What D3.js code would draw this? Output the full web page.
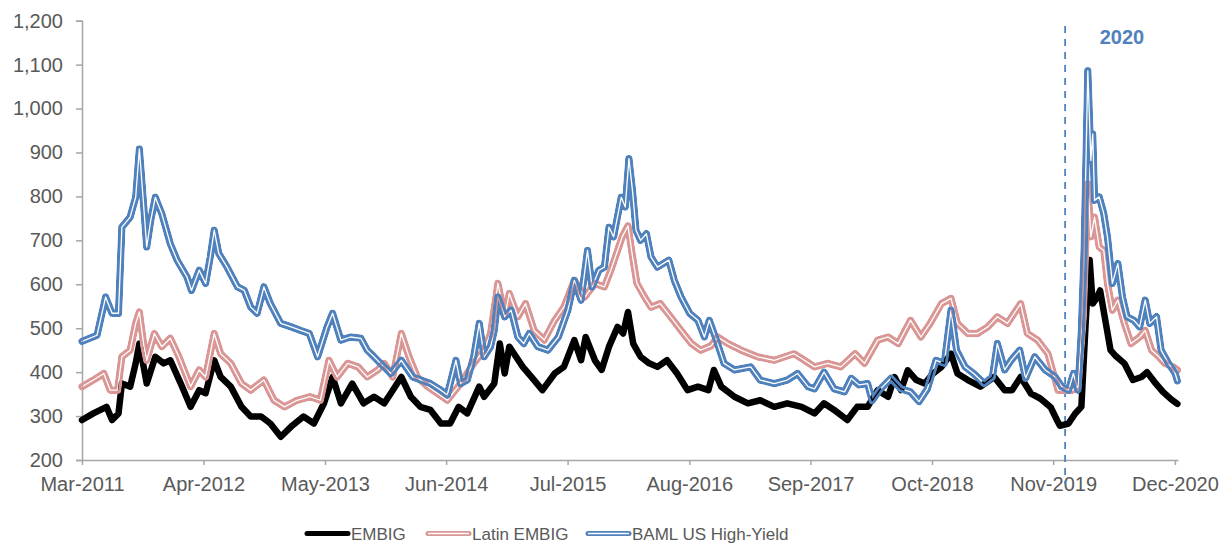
<!DOCTYPE html>
<html>
<head>
<meta charset="utf-8">
<script src="https://cdn.jsdelivr.net/npm/d3@7"></script>
<style>
  body { margin: 0; background: #fff; }
  svg { display: block; font-family: "Liberation Sans", Arial, sans-serif; }
  .axis path, .axis line { stroke: #a6a6a6; stroke-width: 1.5; }
  .axis text { fill: #595959; font-size: 20px; font-family: "Liberation Sans", Arial, sans-serif; }
  .legend text { fill: #595959; font-size: 17px; }
</style>
</head>
<body>
<svg id="chart" width="1228" height="546"></svg>
<script>
// spreads, basis points
var embig = [
  ["2011-03-31",291],["2011-05-07",306],["2011-06-19",321],["2011-07-07",291],["2011-07-28",306],
  ["2011-08-08",374],["2011-09-04",367],["2011-09-22",420],["2011-10-04",465],["2011-10-28",374],
  ["2011-11-25",435],["2011-12-22",420],["2012-01-13",427],["2012-02-16",374],["2012-03-19",321],
  ["2012-04-16",359],["2012-05-07",352],["2012-06-04",427],["2012-06-25",389],["2012-07-28",367],
  ["2012-09-01",321],["2012-10-01",299],["2012-11-04",299],["2012-12-04",283],["2013-01-07",253],
  ["2013-02-10",276],["2013-03-22",299],["2013-04-25",283],["2013-05-28",329],["2013-06-25",389],
  ["2013-07-22",329],["2013-08-28",374],["2013-10-04",329],["2013-11-07",344],["2013-12-10",329],
  ["2014-01-01",352],["2014-02-04",389],["2014-03-07",344],["2014-04-07",321],["2014-05-10",314],
  ["2014-06-13",283],["2014-07-13",283],["2014-08-10",321],["2014-09-07",306],["2014-10-16",367],
  ["2014-11-01",344],["2014-12-04",374],["2014-12-22",465],["2015-01-07",397],["2015-01-22",458],
  ["2015-02-13",435],["2015-03-07",412],["2015-04-04",389],["2015-05-10",359],["2015-06-19",397],
  ["2015-07-19",412],["2015-08-22",473],["2015-09-13",427],["2015-09-28",480],["2015-10-28",427],
  ["2015-11-19",405],["2015-12-13",458],["2016-01-10",503],["2016-01-28",488],["2016-02-13",537],
  ["2016-03-01",465],["2016-03-25",435],["2016-04-22",420],["2016-05-19",412],["2016-06-19",427],
  ["2016-07-22",397],["2016-08-25",359],["2016-09-28",367],["2016-11-01",359],["2016-11-19",405],
  ["2016-12-13",367],["2017-01-25",344],["2017-03-10",329],["2017-04-19",336],["2017-06-04",321],
  ["2017-07-16",329],["2017-09-01",321],["2017-10-13",306],["2017-11-13",329],["2017-12-16",314],
  ["2018-01-28",291],["2018-03-01",321],["2018-04-04",321],["2018-05-07",359],["2018-06-10",344],
  ["2018-07-01",389],["2018-07-22",359],["2018-08-13",404],["2018-09-10",382],["2018-10-07",374],
  ["2018-11-04",397],["2018-12-01",412],["2019-01-01",442],["2019-01-22",397],["2019-02-25",382],
  ["2019-04-07",367],["2019-05-22",389],["2019-06-25",359],["2019-07-19",359],["2019-08-16",389],
  ["2019-09-19",351],["2019-10-19",340],["2019-11-22",320],["2019-12-13",290],["2019-12-22",278],
  ["2020-01-19",283],["2020-02-10",306],["2020-03-01",321],["2020-03-16",526],["2020-03-28",655],
  ["2020-04-07",556],["2020-04-22",571],["2020-05-01",586],["2020-05-16",526],["2020-06-04",450],
  ["2020-06-22",436],["2020-07-19",420],["2020-08-16",382],["2020-09-13",389],["2020-10-01",400],
  ["2020-10-25",378],["2020-11-22",355],["2020-12-19",338],["2021-01-08",328]
];

var latinEmbig = [
  ["2011-03-31",367],["2011-05-07",382],["2011-06-10",397],["2011-07-01",359],["2011-07-25",359],
  ["2011-08-08",435],["2011-09-04",450],["2011-09-22",511],["2011-10-04",537],["2011-10-19",458],
  ["2011-10-28",427],["2011-11-22",488],["2011-12-16",458],["2012-01-13",477],["2012-02-10",435],
  ["2012-03-19",367],["2012-04-16",405],["2012-05-07",389],["2012-06-04",488],["2012-06-25",442],
  ["2012-07-28",420],["2012-09-01",374],["2012-10-01",359],["2012-11-13",382],["2012-12-16",336],
  ["2013-01-19",321],["2013-03-01",336],["2013-04-13",344],["2013-05-16",336],["2013-06-13",427],
  ["2013-07-10",389],["2013-08-13",420],["2013-09-16",412],["2013-10-16",389],["2013-11-19",405],
  ["2013-12-10",420],["2014-01-07",389],["2014-02-04",488],["2014-03-01",435],["2014-03-28",389],
  ["2014-05-01",367],["2014-06-01",352],["2014-07-04",336],["2014-07-13",344],["2014-08-16",374],
  ["2014-09-28",420],["2014-11-01",450],["2014-11-22",488],["2014-12-16",602],["2015-01-07",526],
  ["2015-01-22",579],["2015-02-19",526],["2015-03-16",556],["2015-04-13",495],["2015-05-16",473],
  ["2015-06-19",518],["2015-07-19",548],["2015-08-22",609],["2015-09-25",571],["2015-10-28",602],
  ["2015-11-28",594],["2015-12-19",632],["2016-01-10",677],["2016-01-25",708],["2016-02-13",733],
  ["2016-02-28",662],["2016-03-13",602],["2016-04-07",571],["2016-04-28",548],["2016-05-28",556],
  ["2016-07-01",526],["2016-08-04",495],["2016-09-07",465],["2016-10-07",450],["2016-11-10",460],
  ["2016-12-01",480],["2017-01-04",465],["2017-02-16",450],["2017-04-10",435],["2017-06-04",427],
  ["2017-08-07",442],["2017-09-10",427],["2017-10-13",412],["2017-11-25",420],["2018-01-07",412],
  ["2018-02-22",442],["2018-03-25",420],["2018-05-07",473],["2018-06-10",480],["2018-07-13",465],
  ["2018-08-22",518],["2018-09-25",480],["2018-10-25",511],["2018-12-01",556],["2019-01-01",568],
  ["2019-01-22",511],["2019-02-25",488],["2019-03-28",488],["2019-05-01",503],["2019-06-01",526],
  ["2019-07-04",511],["2019-08-16",556],["2019-09-07",488],["2019-10-10",473],["2019-11-13",442],
  ["2019-12-16",359],["2020-02-01",359],["2020-02-19",367],["2020-03-07",526],["2020-03-22",829],
  ["2020-04-01",708],["2020-04-13",753],["2020-04-28",685],["2020-05-13",677],["2020-05-25",602],
  ["2020-06-10",541],["2020-06-28",564],["2020-07-19",511],["2020-08-10",465],["2020-09-07",480],
  ["2020-09-25",495],["2020-10-16",450],["2020-11-07",436],["2020-11-28",420],["2020-12-25",412],
  ["2021-01-08",405]
];

var bamlHY = [
  ["2011-03-31",470],["2011-05-19",484],["2011-06-16",571],["2011-07-07",534],["2011-07-28",534],
  ["2011-08-08",730],["2011-09-04",753],["2011-09-22",798],["2011-10-04",908],["2011-10-16",798],
  ["2011-10-28",685],["2011-11-10",745],["2011-11-25",798],["2011-12-16",761],["2012-01-13",692],
  ["2012-02-04",655],["2012-03-07",617],["2012-03-22",586],["2012-04-16",632],["2012-05-07",602],
  ["2012-05-22",662],["2012-06-04",723],["2012-06-19",670],["2012-07-16",639],["2012-08-19",594],
  ["2012-09-10",586],["2012-10-01",548],["2012-10-22",534],["2012-11-13",594],["2012-12-04",556],
  ["2013-01-07",511],["2013-02-10",503],["2013-03-13",495],["2013-04-10",488],["2013-05-07",435],
  ["2013-06-07",503],["2013-06-25",534],["2013-07-22",473],["2013-08-22",480],["2013-09-25",477],
  ["2013-10-16",450],["2013-11-07",435],["2013-11-28",420],["2014-01-01",397],["2014-02-04",427],
  ["2014-03-13",389],["2014-05-10",374],["2014-06-13",359],["2014-07-04",348],["2014-08-01",427],
  ["2014-08-16",374],["2014-09-07",382],["2014-09-28",435],["2014-10-16",511],["2014-11-01",435],
  ["2014-11-22",458],["2014-12-04",495],["2014-12-16",571],["2015-01-07",526],["2015-01-28",541],
  ["2015-02-19",480],["2015-03-10",465],["2015-03-28",488],["2015-04-25",458],["2015-05-28",450],
  ["2015-07-01",480],["2015-08-01",541],["2015-08-22",609],["2015-09-13",564],["2015-10-04",677],
  ["2015-10-19",594],["2015-11-10",632],["2015-11-28",639],["2015-12-13",730],["2015-12-28",708],
  ["2016-01-22",798],["2016-02-04",776],["2016-02-16",886],["2016-02-28",811],["2016-03-10",723],
  ["2016-03-25",700],["2016-04-13",715],["2016-04-28",662],["2016-05-19",639],["2016-06-25",655],
  ["2016-07-13",609],["2016-08-04",571],["2016-09-01",534],["2016-09-28",518],["2016-10-19",480],
  ["2016-11-04",518],["2016-12-01",465],["2016-12-22",420],["2017-01-25",405],["2017-03-19",412],
  ["2017-04-19",382],["2017-06-04",374],["2017-07-16",382],["2017-08-19",397],["2017-09-22",367],
  ["2017-10-13",362],["2017-11-13",400],["2017-12-16",362],["2018-01-19",355],["2018-02-10",386],
  ["2018-03-07",371],["2018-04-04",374],["2018-04-19",335],["2018-05-16",362],["2018-06-19",386],
  ["2018-07-22",362],["2018-08-22",355],["2018-09-19",333],["2018-10-16",362],["2018-11-13",427],
  ["2018-12-10",420],["2019-01-01",541],["2019-01-19",450],["2019-02-16",412],["2019-03-16",397],
  ["2019-04-19",374],["2019-05-16",389],["2019-06-01",465],["2019-06-25",405],["2019-07-16",427],
  ["2019-08-13",450],["2019-09-01",386],["2019-10-01",435],["2019-11-04",405],["2019-12-07",389],
  ["2019-12-28",367],["2020-01-19",359],["2020-02-04",397],["2020-02-19",359],["2020-03-01",495],
  ["2020-03-10",677],["2020-03-22",1086],["2020-04-01",882],["2020-04-07",942],["2020-04-13",791],
  ["2020-04-28",799],["2020-05-13",761],["2020-05-25",708],["2020-06-10",602],["2020-06-28",647],
  ["2020-07-13",571],["2020-07-28",526],["2020-08-19",518],["2020-09-07",503],["2020-09-25",564],
  ["2020-10-10",511],["2020-11-01",526],["2020-11-16",450],["2020-12-10",420],["2021-01-01",397],
  ["2021-01-08",380]
];

var seriesNames = ["EMBIG", "Latin EMBIG", "BAML US High-Yield"];
var seriesColors = ["#000000", "#d99694", "#4f81bd"];

var tickDates = ["2011-03-31","2012-04-30","2013-05-31","2014-06-30","2015-07-31",
                 "2016-08-31","2017-09-30","2018-10-31","2019-11-30","2020-12-31"];
var tickLabels = ["Mar-2011","Apr-2012","May-2013","Jun-2014","Jul-2015",
                  "Aug-2016","Sep-2017","Oct-2018","Nov-2019","Dec-2020"];
var yTicks = [200, 300, 400, 500, 600, 700, 800, 900, 1000, 1100, 1200];

var markerDate = "2020-01-08";
var markerLabel = "2020";

var W = 1228, H = 546;
var parse = d3.timeParse("%Y-%m-%d");

var svg = d3.select('#chart');
var defs = svg.append('defs');

var x = d3.scaleTime()
    .domain([parse("2011-03-31"), parse("2021-01-10")])
    .range([82, 1178]);
var y = d3.scaleLinear()
    .domain([200, 1200])
    .range([460, 20.7]);

var line = d3.line()
    .x((d) => x(parse(d[0])))
    .y((d) => y(d[1]));

// y axis
svg.append('g')
    .attr('class', 'axis')
    .attr('transform', 'translate(82,0)')
    .call(d3.axisLeft(y).tickValues(yTicks).tickSize(6).tickPadding(13)
        .tickFormat(d3.format(',')));

// x axis
var tickMap = {};
tickDates.forEach((d, i) => tickMap[+parse(d)] = tickLabels[i]);
svg.append('g')
    .attr('class', 'axis')
    .attr('transform', 'translate(0,460)')
    .call(d3.axisBottom(x).tickValues(tickDates.map(parse)).tickSize(5).tickPadding(12)
        .tickSizeOuter(0)
        .tickFormat((d) => tickMap[+d]));

// 2020 marker
svg.append('line')
    .attr('x1', x(parse(markerDate))).attr('x2', x(parse(markerDate)))
    .attr('y1', 26).attr('y2', 484)
    .attr('stroke', '#4f81bd')
    .attr('stroke-width', 1.8)
    .attr('stroke-dasharray', '7,6');
svg.append('text')
    .attr('x', 1122).attr('y', 44)
    .attr('text-anchor', 'middle')
    .attr('fill', '#4f81bd')
    .style('font-size', '20px')
    .style('font-weight', 'bold')
    .text(markerLabel);

// double line with transparent centre (compound line)
function drawDouble(data, color, id, outer, inner) {
    var mask = defs.append('mask').attr('id', id)
        .attr('maskUnits', 'userSpaceOnUse')
        .attr('x', 0).attr('y', 0).attr('width', W).attr('height', H);
    mask.append('path').datum(data).attr('d', line)
        .attr('fill', 'none').attr('stroke', '#fff')
        .attr('stroke-width', outer).attr('stroke-linejoin', 'round').attr('stroke-linecap', 'round');
    mask.append('path').datum(data).attr('d', line)
        .attr('fill', 'none').attr('stroke', '#000')
        .attr('stroke-width', inner).attr('stroke-linejoin', 'round').attr('stroke-linecap', 'round');
    svg.append('path').datum(data).attr('d', line)
        .attr('fill', 'none').attr('stroke', color)
        .attr('stroke-width', outer).attr('stroke-linejoin', 'round').attr('stroke-linecap', 'round')
        .attr('mask', `url(#${id})`);
}

svg.append('path').datum(embig).attr('d', line)
    .attr('fill', 'none').attr('stroke', seriesColors[0])
    .attr('stroke-width', 6.5).attr('stroke-linejoin', 'round').attr('stroke-linecap', 'round');
drawDouble(latinEmbig, seriesColors[1], 'm-latin', 7.5, 1.3);
drawDouble(bamlHY, seriesColors[2], 'm-baml', 7.5, 1.3);

// legend
var legendX = [307, 428, 588];
var legend = svg.append('g').attr('class', 'legend')
    .selectAll('g').data(seriesNames).enter().append('g')
    .attr('transform', (d, i) => `translate(${legendX[i]},533.5)`);
legend.append('line')
    .attr('x1', 0).attr('x2', 41).attr('y1', 0).attr('y2', 0)
    .attr('stroke', (d, i) => seriesColors[i])
    .attr('stroke-width', 5)
    .attr('stroke-linecap', 'round');
legend.filter((d, i) => i > 0).append('line')
    .attr('x1', 0).attr('x2', 41).attr('y1', 0).attr('y2', 0)
    .attr('stroke', '#fff').attr('stroke-width', 1.6);
legend.append('text')
    .attr('x', 44).attr('y', 0).attr('dy', '0.36em')
    .text((d) => d);
</script>
</body>
</html>
